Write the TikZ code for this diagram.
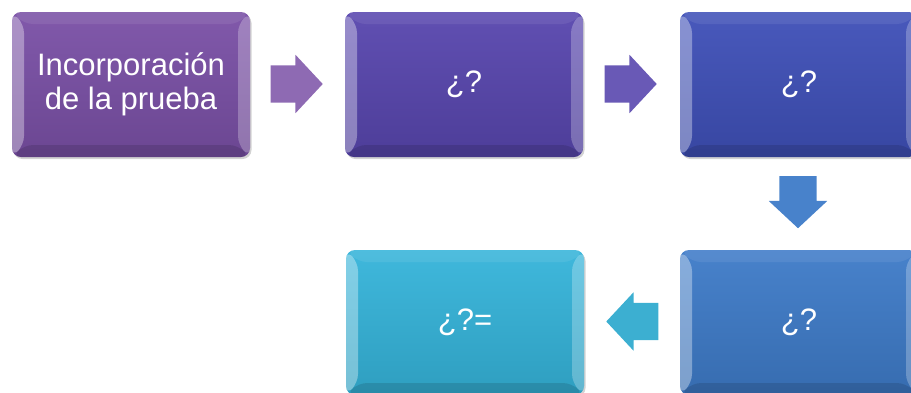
\documentclass[tikz,border=0pt]{standalone}
\usepackage{fontspec}
\setmainfont{Liberation Sans}
\usetikzlibrary{shapes.arrows,shadows}

\definecolor{morado}{HTML}{7A50A6}
\definecolor{violeta}{HTML}{5846AE}
\definecolor{anil}{HTML}{3F50B8}
\definecolor{azul}{HTML}{3E7BC8}
\definecolor{celeste}{HTML}{35B4DA}

\tikzset{
	paso/.style={rounded corners=9pt, minimum width=238pt, minimum height=145pt,
		top color=#1!95!white, bottom color=#1!88!black, text=white, align=center,
		font=\fontsize{31}{34}\selectfont,
		drop shadow={opacity=.35, shadow xshift=1.5pt, shadow yshift=-2pt},
		path picture={
			\fill[white,opacity=.35] (path picture bounding box.north west) -- ([shift={(12,-12)}]path picture bounding box.north west)
				-- ([shift={(12,12)}]path picture bounding box.south west) -- (path picture bounding box.south west) -- cycle;
			\fill[white,opacity=.25] (path picture bounding box.north east) -- ([shift={(-12,-12)}]path picture bounding box.north east)
				-- ([shift={(-12,12)}]path picture bounding box.south east) -- (path picture bounding box.south east) -- cycle;
			\fill[white,opacity=.08] (path picture bounding box.north west) -- (path picture bounding box.north east)
				-- ([shift={(-12,-12)}]path picture bounding box.north east) -- ([shift={(12,-12)}]path picture bounding box.north west) -- cycle;
			\fill[black,opacity=.12] (path picture bounding box.south west) -- (path picture bounding box.south east)
				-- ([shift={(-12,12)}]path picture bounding box.south east) -- ([shift={(12,12)}]path picture bounding box.south west) -- cycle;
		}},
	flecha/.style={single arrow, fill=#1, minimum height=52pt, text height=37pt, text depth=0pt,
		text width=0pt, single arrow head extend=10.5pt, single arrow tip angle=94, inner sep=0pt},
	bajada/.style={flecha=#1, shape border rotate=270, text height=0pt, text width=37pt}
}

\begin{document}
\begin{tikzpicture}[x=1pt,y=1pt]
	\clip (0,0) rectangle (911,-392);
	
	\node[paso=morado] (inc) at (131,-84.5) {Incorporación\\de la prueba};
	\node[paso=violeta] (p2) at (464,-84.5) {¿?};
	\node[paso=anil] (p3) at (799,-84.5) {¿?};
	\node[paso=azul] (p4) at (799,-322.5) {¿?};
	\node[paso=celeste] (p5) at (465,-322.5) {¿?=};
	
	\node[flecha=morado!85!white] (f1) at (288,-84) {};
	\node[flecha=violeta!90!white] (f2) at (622,-84) {};
	\node[bajada=azul!95!white] (f3) at (798,-193.5) {};
	\node[flecha=celeste!90!gray, shape border rotate=180] (f4) at (641,-321.5) {};
\end{tikzpicture}
\end{document}
